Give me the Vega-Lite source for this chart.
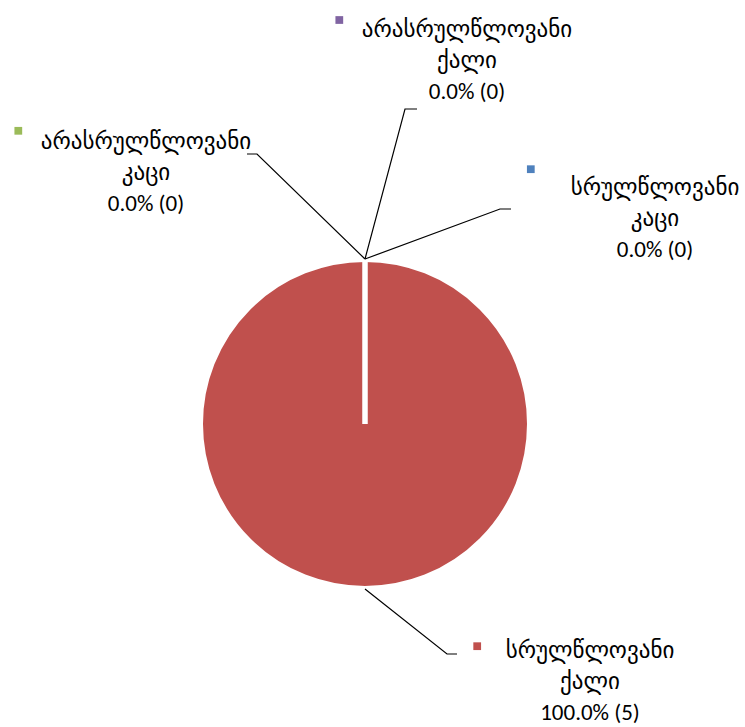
{
  "$schema": "https://vega.github.io/schema/vega-lite/v6.json",
  "width": 745,
  "height": 727,
  "autosize": {"type": "none"},
  "padding": 0,
  "background": "white",
  "config": {"view": {"stroke": null}},
  "datasets": {
    "slices": [
      {"category": "სრულწლოვანი კაცი", "value": 0, "text": "სრულწლოვანი\nკაცი\n0.0% (0)", "tx": 1.7901, "ty": 1.4568, "mx": 1.0235, "my": 1.5728},
      {"category": "სრულწლოვანი ქალი", "value": 5, "text": "სრულწლოვანი\nქალი\n100.0% (5)", "tx": 1.3889, "ty": -1.4012, "mx": 0.6926, "my": -1.3716},
      {"category": "არასრულწლოვანი კაცი", "value": 0, "text": "არასრულწლოვანი\nკაცი\n0.0% (0)", "tx": -1.3519, "ty": 1.7407, "mx": -2.1401, "my": 1.8099},
      {"category": "არასრულწლოვანი ქალი", "value": 0, "text": "არასრულწლოვანი\nქალი\n0.0% (0)", "tx": 0.6296, "ty": 2.4321, "mx": -0.1586, "my": 2.4938}
    ],
    "leaders": [
      {"leader": "bottom", "step": 1, "lx": 0, "ly": -1.0185},
      {"leader": "bottom", "step": 2, "lx": 0.5062, "ly": -1.4198},
      {"leader": "bottom", "step": 3, "lx": 0.5679, "ly": -1.4198},
      {"leader": "left", "step": 1, "lx": 0, "ly": 1.0185},
      {"leader": "left", "step": 2, "lx": -0.6667, "ly": 1.6667},
      {"leader": "left", "step": 3, "lx": -0.7284, "ly": 1.6667},
      {"leader": "top", "step": 1, "lx": 0, "ly": 1.0185},
      {"leader": "top", "step": 2, "lx": 0.2469, "ly": 1.9444},
      {"leader": "top", "step": 3, "lx": 0.321, "ly": 1.9444},
      {"leader": "right", "step": 1, "lx": 0, "ly": 1.0185},
      {"leader": "right", "step": 2, "lx": 0.8333, "ly": 1.3272},
      {"leader": "right", "step": 3, "lx": 0.9012, "ly": 1.3272}
    ]
  },
  "layer": [
    {
      "data": {"name": "slices"},
      "mark": {"type": "arc", "outerRadius": 164.5, "stroke": "white", "strokeWidth": 5},
      "encoding": {
        "theta": {"field": "value", "type": "quantitative", "stack": true},
        "color": {
          "field": "category", "type": "nominal",
          "scale": {
            "domain": ["სრულწლოვანი კაცი", "სრულწლოვანი ქალი", "არასრულწლოვანი კაცი", "არასრულწლოვანი ქალი"],
            "range": ["#4F81BD", "#C0504D", "#9BBB59", "#8064A2"]
          },
          "legend": null
        },
        "x": {"datum": 0, "type": "quantitative", "scale": {"domain": [-2.2531, 2.3457], "nice": false, "zero": false}, "axis": null},
        "y": {"datum": 0, "type": "quantitative", "scale": {"domain": [-1.8704, 2.6173], "nice": false, "zero": false}, "axis": null}
      }
    },
    {
      "data": {"name": "leaders"},
      "mark": {"type": "line", "color": "#000000", "strokeWidth": 1.2},
      "encoding": {
        "x": {"field": "lx", "type": "quantitative", "scale": {"domain": [-2.2531, 2.3457], "nice": false, "zero": false}, "axis": null},
        "y": {"field": "ly", "type": "quantitative", "scale": {"domain": [-1.8704, 2.6173], "nice": false, "zero": false}, "axis": null},
        "detail": {"field": "leader", "type": "nominal"},
        "order": {"field": "step", "type": "quantitative"}
      }
    },
    {
      "data": {"name": "slices"},
      "mark": {"type": "point", "shape": "square", "filled": true, "size": 60, "opacity": 1},
      "encoding": {
        "x": {"field": "mx", "type": "quantitative", "scale": {"domain": [-2.2531, 2.3457], "nice": false, "zero": false}, "axis": null},
        "y": {"field": "my", "type": "quantitative", "scale": {"domain": [-1.8704, 2.6173], "nice": false, "zero": false}, "axis": null},
        "color": {"field": "category", "type": "nominal", "legend": null}
      }
    },
    {
      "data": {"name": "slices"},
      "mark": {"type": "text", "lineBreak": "\n", "lineHeight": 31, "fontSize": 23, "font": "Calibri, Carlito, 'Open Sans', 'DejaVu Sans', sans-serif", "align": "center", "baseline": "middle", "color": "#000000"},
      "encoding": {
        "x": {"field": "tx", "type": "quantitative", "scale": {"domain": [-2.2531, 2.3457], "nice": false, "zero": false}, "axis": null},
        "y": {"field": "ty", "type": "quantitative", "scale": {"domain": [-1.8704, 2.6173], "nice": false, "zero": false}, "axis": null},
        "text": {"field": "text", "type": "nominal"}
      }
    }
  ]
}
